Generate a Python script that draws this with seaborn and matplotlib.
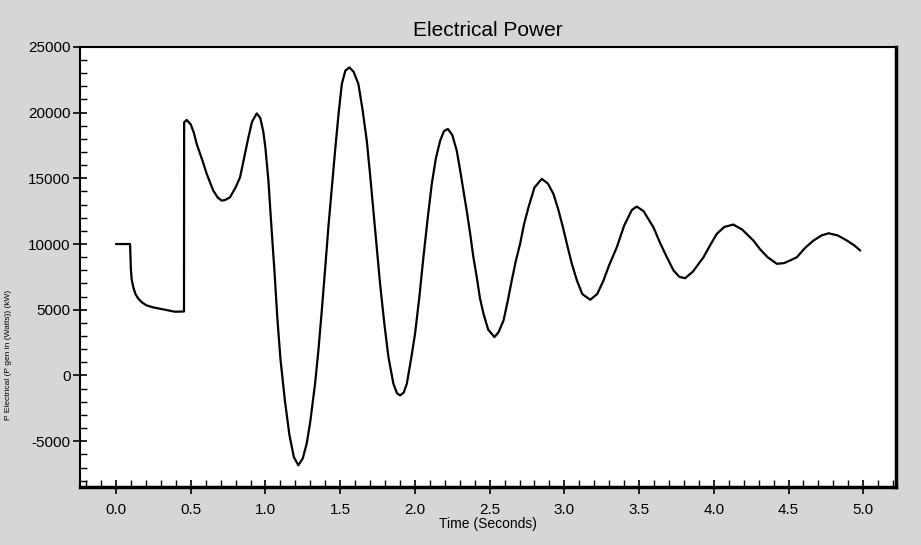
import pandas as pd
import matplotlib.pyplot as plt
import seaborn as sns
from matplotlib.ticker import MultipleLocator

# Valores (tempo em s, potência)
time_s = [0.0, 0.094, 0.097, 0.100, 0.105, 0.116, 0.13, 0.15, 0.175, 0.205,
          0.25, 0.295, 0.35, 0.395, 0.455,
          0.456, 0.473, 0.50, 0.52, 0.54, 0.58, 0.607, 0.651, 0.68, 0.707, 0.73,
          0.763, 0.80, 0.83, 0.86, 0.886, 0.91, 0.942, 0.965,
          0.985, 1.00, 1.02, 1.04, 1.06, 1.08, 1.10, 1.13, 1.16, 1.19, 1.22, 1.25,
          1.276, 1.30, 1.332, 1.355, 1.377, 1.40, 1.421, 1.445, 1.466, 1.49,
          1.511, 1.535, 1.562, 1.59,
          1.622, 1.65, 1.678, 1.70, 1.722, 1.745, 1.767, 1.795, 1.823, 1.856,
          1.88, 1.901, 1.925,
          1.946, 1.975, 2.001, 2.03, 2.057, 2.085, 2.113, 2.14, 2.169, 2.195,
          2.221, 2.25,
          2.28, 2.30, 2.325, 2.35, 2.37, 2.39, 2.414, 2.435, 2.459, 2.49, 2.532,
          2.56,
          2.593, 2.62, 2.648, 2.675, 2.704, 2.73, 2.76, 2.80, 2.849, 2.89,
          2.927, 2.96, 2.99, 3.017, 3.05, 3.084, 3.12, 3.173, 3.22,
          3.262, 3.30, 3.351, 3.40, 3.452, 3.485, 3.53,
          3.596, 3.64, 3.686, 3.73, 3.77, 3.808, 3.86,
          3.931, 3.975, 4.02, 4.07, 4.131, 4.19,
          4.265, 4.31, 4.36, 4.422, 4.47,
          4.52, 4.556, 4.61, 4.667, 4.72, 4.768, 4.83,
          4.891, 4.94, 4.98]
power = [10000, 10000, 9000, 8000, 7300, 6700, 6200, 5835, 5550, 5330,
         5180, 5075, 4950, 4850, 4870,
         19255, 19440, 19100, 18500, 17614, 16300, 15335, 14065, 13550, 13305, 13350,
         13556, 14300, 15076, 16700, 18115, 19300, 19940, 19600,
         18600, 17300, 14800, 11300, 8000, 4300, 1300, -1900, -4500, -6200, -6831, -6300,
         -5183, -3500, -624, 2000, 4947, 8200, 11277, 14400, 17105, 20000,
         22173, 23200, 23435, 23100,
         22173, 20200, 17865, 15300, 12546, 9700, 6976, 4000, 1398, -624,
         -1350, -1513, -1300,
         -624, 1300, 3176, 6000, 8997, 11900, 14574, 16500, 17865, 18600,
         18754, 18300,
         17105, 15800, 14065, 12300, 10775, 9100, 7477, 5900, 4696, 3500, 2918,
         3300,
         4187, 5600, 7227, 8700, 10015, 11500, 12796, 14300, 14954, 14600,
         13814, 12600, 11300, 10015, 8500, 7227, 6200, 5760, 6200,
         7227, 8400, 9757, 11400, 12600, 12850, 12500,
         11277, 10100, 8997, 8000, 7500, 7401, 7900,
         8997, 9900, 10775, 11300, 11482, 11100,
         10266, 9600, 9000, 8495, 8550,
         8800, 8997, 9700, 10266, 10650, 10821, 10650,
         10266, 9900, 9506]

x_ticks = [0.0, 0.5, 1.0, 1.5, 2.0, 2.5, 3.0, 3.5, 4.0, 4.5, 5.0]
y_ticks = [-5000, 0, 5000, 10000, 15000, 20000, 25000]

df = pd.DataFrame({"Time": time_s, "Power": power})

sns.set_style("ticks")
plt.rcParams["font.family"] = ["Liberation Sans", "DejaVu Sans"]
plt.rcParams["text.color"] = "black"

fig = plt.figure(figsize=(9.21, 5.45), dpi=100, facecolor="#d6d6d6")
ax = fig.add_axes([0.087, 0.106, 0.886, 0.808])
ax.set_facecolor("white")

sns.lineplot(data=df, x="Time", y="Power", color="black", linewidth=1.6,
             sort=False, estimator=None, ax=ax)

ax.set_xlim(-0.24, 5.22)
ax.set_ylim(-8500, 25000)
ax.set_xticks(x_ticks)
ax.set_xticklabels([f"{v:.1f}" for v in x_ticks])
ax.set_yticks(y_ticks)
ax.set_yticklabels([str(v) for v in y_ticks])
ax.xaxis.set_minor_locator(MultipleLocator(0.1))
ax.yaxis.set_minor_locator(MultipleLocator(1000))
ax.tick_params(which="major", direction="inout", length=10, width=1.2,
               labelsize=11, color="black", labelcolor="black")
ax.tick_params(which="minor", direction="in", length=5, width=1.0, color="black")
ax.tick_params(axis="x", pad=6)
ax.tick_params(axis="y", pad=2)

for s in ax.spines.values():
    s.set_color("black")
    s.set_linewidth(1.5)
ax.spines["bottom"].set_linewidth(2.5)
ax.spines["right"].set_linewidth(2.5)

ax.set_title("Electrical Power", fontsize=15, pad=8, color="black")
ax.set_xlabel("Time (Seconds)", fontsize=10, labelpad=0, color="black")
ax.set_ylabel("P Electrical (P gen in (Watts)) (kW)", fontsize=6, color="black")
ax.yaxis.set_label_coords(-0.083, 0.3)

fig.savefig("out.png", dpi=100, facecolor=fig.get_facecolor())
plt.close()
